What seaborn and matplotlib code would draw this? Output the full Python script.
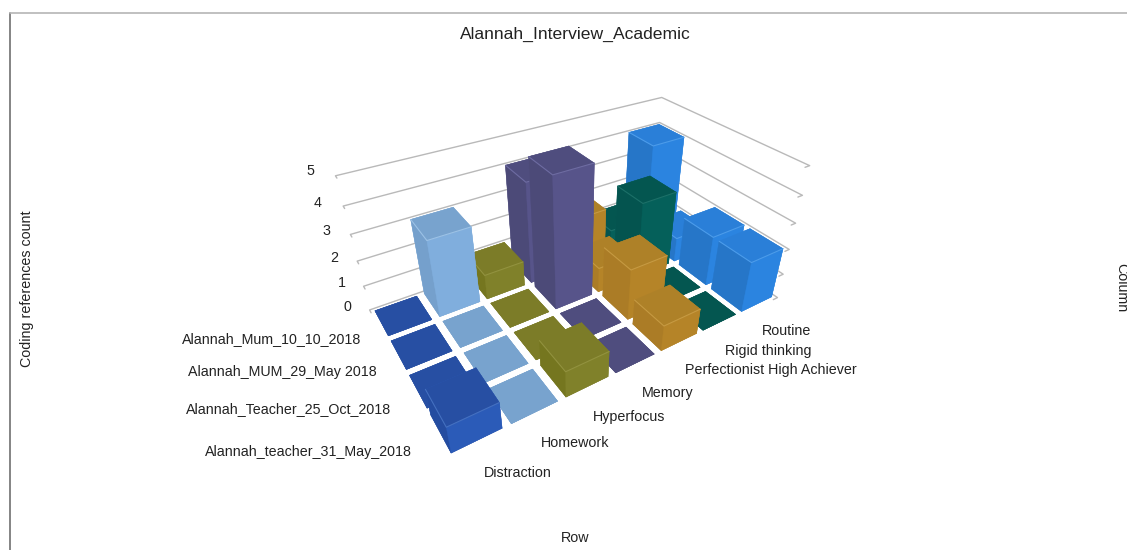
import numpy as np
import pandas as pd
import matplotlib
matplotlib.use("Agg")
import matplotlib.pyplot as plt
from matplotlib.lines import Line2D
import seaborn as sns

title = "Alannah_Interview_Academic"
columns = ["Distraction", "Homework", "Hyperfocus", "Memory",
           "Perfectionist High Achiever", "Rigid thinking", "Routine"]
rows = ["Alannah_teacher_31_May_2018", "Alannah_Teacher_25_Oct_2018",
        "Alannah_MUM_29_May 2018", "Alannah_Mum_10_10_2018"]
# one list per column, values ordered as in `rows`
distraction = [1, 0, 0, 0]
homework = [0, 0, 0, 3]
hyperfocus = [1, 0, 0, 1]
memory = [0, 0, 5, 4]
perfectionist = [1, 2, 1, 2]
rigid = [0, 0, 3, 1]
routine = [2, 2, 1, 4]
z_ticks = [0, 1, 2, 3, 4, 5]

right_face = ["#2B5BB8", "#80AEDD", "#80812A", "#57548A", "#B58428", "#05605A", "#2B84E0"]
left_face = ["#244CA0", "#75A0CC", "#75761F", "#4C4A78", "#AB7C26", "#04544F", "#2676C8"]
top_face = ["#274FA3", "#78A3CE", "#7C7C28", "#4F4D7E", "#AE8128", "#045650", "#2A7FD8"]
highlight = ["#4470C0", "#9CC2E6", "#92923F", "#6E6CA2", "#C69A42", "#1C7068", "#4C9CEA"]

df = pd.DataFrame([distraction, homework, hyperfocus, memory, perfectionist, rigid, routine],
                  index=columns, columns=rows)

sns.set_theme(style="white")
plt.rcParams["font.family"] = ["Liberation Sans", "DejaVu Sans"]
W, H = 1127, 550
fig = plt.figure(figsize=(W / 100, H / 100), dpi=100)


def px(x, y):
    return x / W, 1 - y / H


S = 550
cx, cy = 568.9, 249.6
ax = fig.add_axes([(cx - S / 2) / W, 1 - (cy + S / 2) / H, S / W, S / H], projection="3d")
ax.computed_zorder = False
ax.set_axis_off()
ax.patch.set_alpha(0)
ax.set_proj_type("persp", focal_length=0.197)
ax.view_init(elev=33.666, azim=-122.431)
ax.set_box_aspect((1.0, 0.571, 0.417), zoom=0.824)
nc, nr = df.shape
ax.set_xlim(0, nc)
ax.set_ylim(0, nr)
ax.set_zlim(0, max(z_ticks))

grid = "#B9B9B9"
for z in z_ticks:
    ax.plot([0, 0, nc, nc, nc - 0.12], [nr - 0.1, nr, nr, 0, 0], [z] * 5, color=grid, lw=1.0, zorder=0)

w = 0.84
pad = (1 - w) / 2
order = 1
for c in range(nc - 1, -1, -1):
    for r in range(nr - 1, -1, -1):
        h = float(df.iloc[c, r])
        x0, y0 = c + pad, r + pad
        if h == 0:
            faces = [top_face[c]] * 6
        else:
            faces = [top_face[c], top_face[c], right_face[c], right_face[c], left_face[c], right_face[c]]
        ax.bar3d(x0, y0, 0, w, w, h, color=faces, edgecolor=faces, linewidth=0.3,
                 shade=False, zorder=order)
        order += 1
        if h > 0:
            ax.plot([x0, x0, x0 + w], [y0 + w, y0, y0], [h, h, h], color=highlight[c], lw=0.8, zorder=order)
            order += 1

fs = 10.3
ink = "#222222"
tick_xy = {0: (347, 307), 1: (342, 283), 2: (334, 258), 3: (326, 231), 4: (318, 203), 5: (310, 171)}
for z in z_ticks:
    fig.text(*px(*tick_xy[z]), str(z), ha="center", va="center", fontsize=fs, color=ink)
row_xy = [(308.5, 452), (289, 409), (282, 372), (272, 339)]
for label, xy in zip(rows, row_xy):
    fig.text(*px(*xy), label, ha="center", va="center", fontsize=fs, color=ink)
col_xy = [(518, 473), (575.5, 443), (629.5, 417), (668, 393), (771, 370), (768, 351), (787, 331)]
for label, xy in zip(columns, col_xy):
    fig.text(*px(*xy), label, ha="center", va="center", fontsize=fs, color=ink)

fig.text(*px(575, 34), title, ha="center", va="center", fontsize=12.6, color=ink)
fig.text(*px(575, 538), "Row", ha="center", va="center", fontsize=fs, color=ink)
fig.text(*px(27, 289), "Coding references count", ha="center", va="center", rotation=90, fontsize=fs, color=ink)
fig.text(*px(1121, 288), "Column", ha="center", va="center", rotation=-90, fontsize=fs, color=ink)

fig.add_artist(Line2D([10 / W, 10 / W], [0, 1 - 13 / H], color="#707070", lw=1.2))
fig.add_artist(Line2D([10 / W, 1], [1 - 13 / H, 1 - 13 / H], color="#B5B5B5", lw=1.2))

fig.savefig("out.png", dpi=100, facecolor="white")
